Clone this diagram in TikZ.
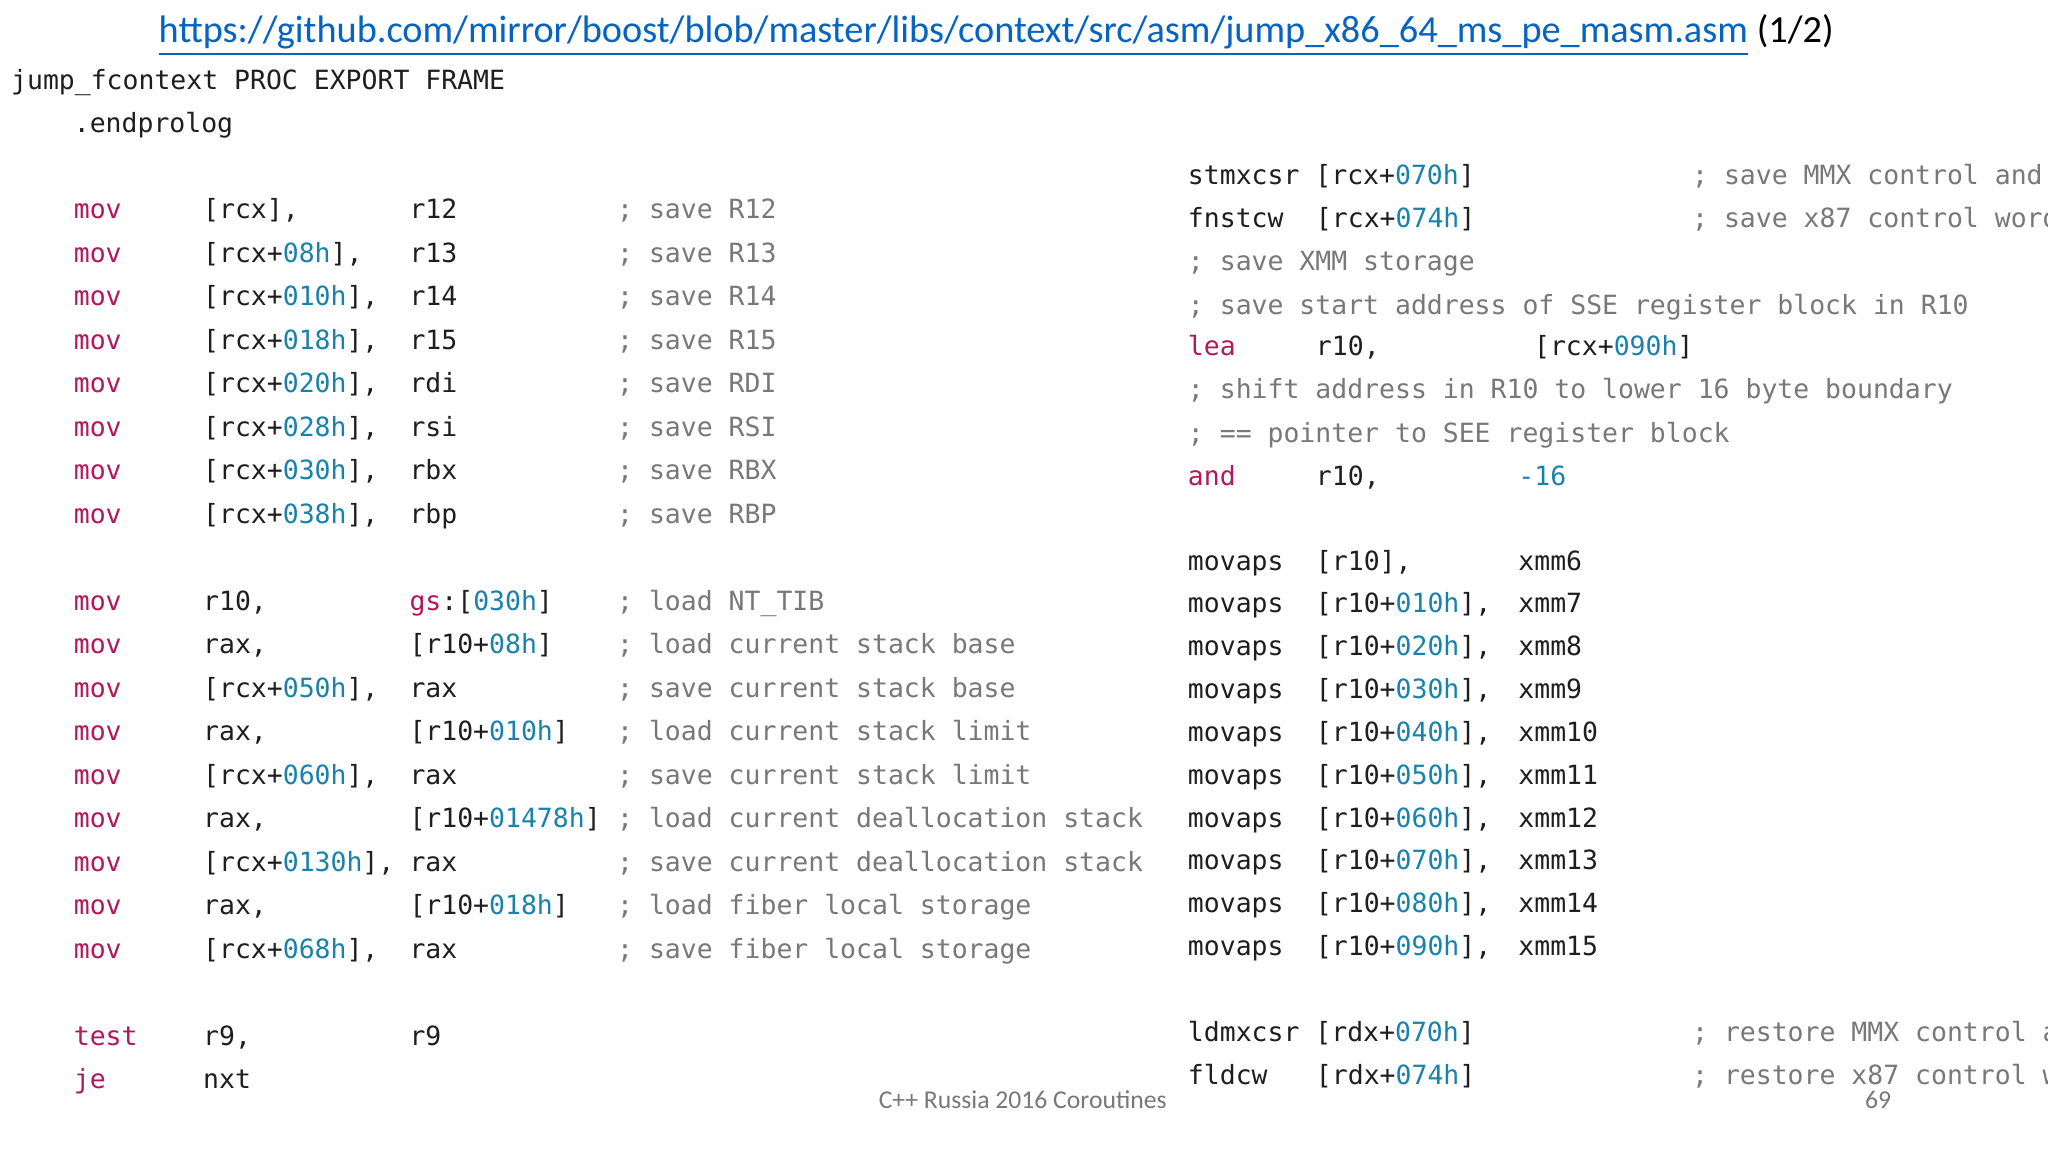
\documentclass[tikz,border=0pt]{standalone}
\usepackage{fontspec}
\setmainfont{Carlito}
\setmonofont{DejaVu Sans Mono}
\definecolor{kwc}{RGB}{178,24,92}
\definecolor{hexc}{RGB}{25,130,170}
\definecolor{cmc}{RGB}{120,120,120}
\definecolor{txc}{RGB}{30,30,30}
\definecolor{linkc}{RGB}{5,99,193}
\newcommand\hx[1]{\textcolor{hexc}{#1}}
\newcommand\kw[1]{\textcolor{kwc}{#1}}
\tikzset{
  code/.style={anchor=mid west,inner sep=0pt,text=txc,font=\ttfamily\fontsize{7.53pt}{9pt}\selectfont},
  kwd/.style={code,text=kwc},
  cmt/.style={code,text=cmc},
}
\newcommand\LR[5]{% row, op, a, b, comment (left block)
  \node[kwd] at (56,{161+33.3*#1}) {#2};
  \node[code] at (155,{161+33.3*#1}) {#3};
  \node[code] at (313,{161+33.3*#1}) {#4};
  \node[cmt] at (472,{161+33.3*#1}) {#5};}
\begin{document}
\begin{tikzpicture}[x=0.01306cm,y=-0.01306cm]
\useasboundingbox (0,0) rectangle (1568,882);
\clip (0,0) rectangle (1568,882);
\fill[white] (0,0) rectangle (1568,882);
\node[anchor=mid west,inner sep=0pt,font=\fontsize{10.9pt}{13pt}\selectfont] (title) at (121,26)
  {\textcolor{linkc}{\underline{https://github.com/mirror/boost/blob/master/libs/context/src/asm/jump\_x86\_64\_ms\_pe\_masm.asm}} (1/2)};
\node[code] (h1) at (8,62) {jump\_fcontext PROC EXPORT FRAME};
\node[code] (h2) at (56,95) {.endprolog};
\LR{0}{mov}{[rcx],}{r12}{; save R12}
\LR{1}{mov}{[rcx+\hx{08h}],}{r13}{; save R13}
\LR{2}{mov}{[rcx+\hx{010h}],}{r14}{; save R14}
\LR{3}{mov}{[rcx+\hx{018h}],}{r15}{; save R15}
\LR{4}{mov}{[rcx+\hx{020h}],}{rdi}{; save RDI}
\LR{5}{mov}{[rcx+\hx{028h}],}{rsi}{; save RSI}
\LR{6}{mov}{[rcx+\hx{030h}],}{rbx}{; save RBX}
\LR{7}{mov}{[rcx+\hx{038h}],}{rbp}{; save RBP}
\LR{9}{mov}{r10,}{\kw{gs}:[\hx{030h}]}{; load NT\_TIB}
\LR{10}{mov}{rax,}{[r10+\hx{08h}]}{; load current stack base}
\LR{11}{mov}{[rcx+\hx{050h}],}{rax}{; save current stack base}
\LR{12}{mov}{rax,}{[r10+\hx{010h}]}{; load current stack limit}
\LR{13}{mov}{[rcx+\hx{060h}],}{rax}{; save current stack limit}
\LR{14}{mov}{rax,}{[r10+\hx{01478h}]}{; load current deallocation stack}
\LR{15}{mov}{[rcx+\hx{0130h}],}{rax}{; save current deallocation stack}
\LR{16}{mov}{rax,}{[r10+\hx{018h}]}{; load fiber local storage}
\LR{17}{mov}{[rcx+\hx{068h}],}{rax}{; save fiber local storage}
\LR{19}{test}{r9,}{r9}{}
\LR{20}{je}{nxt}{}{}
% right block
\node[code] (s0) at (909,135) {stmxcsr [rcx+\hx{070h}]};
\node[cmt] (c0) at (1295,135) {; save MMX control and word};
\node[code] (s1) at (909,168) {fnstcw};
\node[code] (s1b) at (1007,168) {[rcx+\hx{074h}]};
\node[cmt] (c1) at (1295,168) {; save x87 control word};
\node[cmt] (c2) at (909,201) {; save XMM storage};
\node[cmt] (c3) at (909,234) {; save start address of SSE register block in R10};
\node[kwd] (s4) at (909,266) {lea};
\node[code] (s4b) at (1007,266) {r10,};
\node[code] (s4c) at (1174,266) {[rcx+\hx{090h}]};
\node[cmt] (c5) at (909,299) {; shift address in R10 to lower 16 byte boundary};
\node[cmt] (c6) at (909,332) {; == pointer to SEE register block};
\node[kwd] (s7) at (909,365) {and};
\node[code] (s7b) at (1007,365) {r10,};
\node[code] (s7c) at (1162,365) {\hx{-16}};
\foreach \i/\a/\r in {0/{[r10],}/xmm6,1/{[r10+\hx{010h}],}/xmm7,2/{[r10+\hx{020h}],}/xmm8,3/{[r10+\hx{030h}],}/xmm9,4/{[r10+\hx{040h}],}/xmm10,5/{[r10+\hx{050h}],}/xmm11,6/{[r10+\hx{060h}],}/xmm12,7/{[r10+\hx{070h}],}/xmm13,8/{[r10+\hx{080h}],}/xmm14,9/{[r10+\hx{090h}],}/xmm15}{
  \node[code] (m\i) at (909,{430+32.8*\i}) {movaps};
  \node[code] (ma\i) at (1007,{430+32.8*\i}) {\a};
  \node[code] (mr\i) at (1162,{430+32.8*\i}) {\r};
}
\node[code] (l0) at (909,791) {ldmxcsr [rdx+\hx{070h}]};
\node[cmt] (lc0) at (1295,791) {; restore MMX control and};
\node[code] (l1) at (909,824) {fldcw};
\node[code] (l1b) at (1007,824) {[rdx+\hx{074h}]};
\node[cmt] (lc1) at (1295,824) {; restore x87 control word};
\node[text=cmc,font=\fontsize{7.3pt}{9pt}\selectfont,inner sep=0pt] (foot) at (783,842) {C++ Russia 2016 Coroutines};
\node[text=cmc,font=\fontsize{7.3pt}{9pt}\selectfont,inner sep=0pt] (pg) at (1438,842) {69};
\end{tikzpicture}
\end{document}
